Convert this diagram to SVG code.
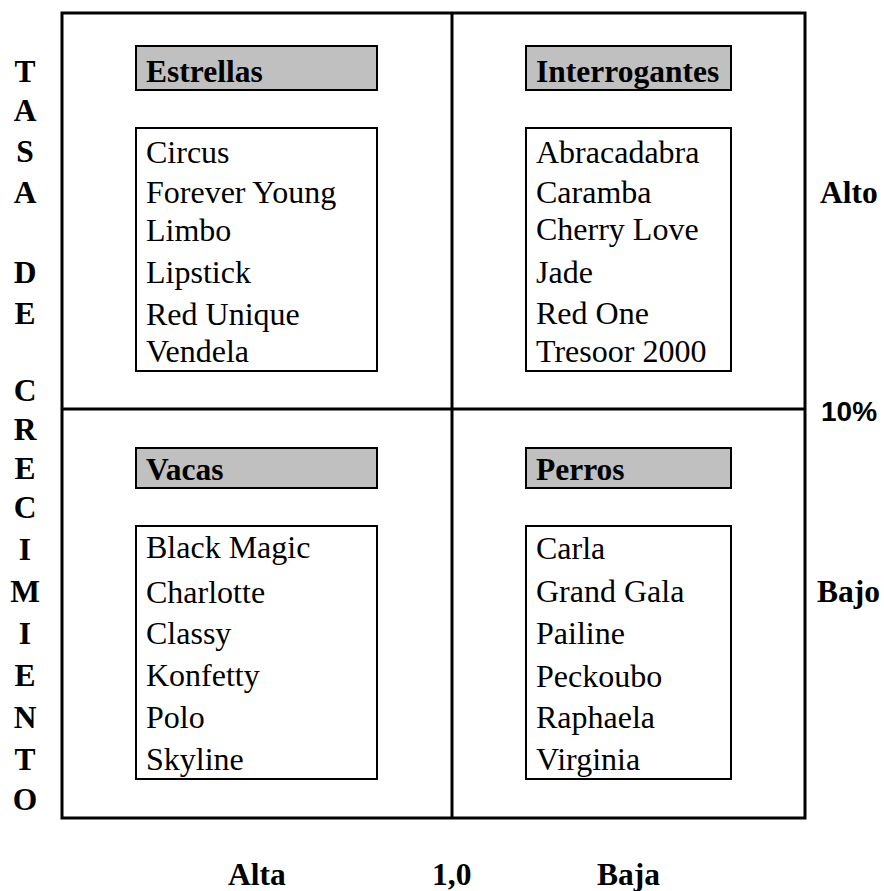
<svg xmlns="http://www.w3.org/2000/svg" width="884" height="891" viewBox="0 0 884 891">
<style>
.t{font-family:"Liberation Serif","Times New Roman",serif;font-size:32px;fill:#000}
.b{font-family:"Liberation Serif","Times New Roman",serif;font-size:31.5px;font-weight:bold;fill:#000}
.s{font-family:"Liberation Sans",Arial,sans-serif;font-size:28px;font-weight:bold;fill:#000}
.hdr{fill:#c0c0c0;stroke:#000;stroke-width:2}
.lst{fill:#fff;stroke:#000;stroke-width:2}
.ln{stroke:#000;stroke-width:3;fill:none}
</style>
<rect width="884" height="891" fill="#fff"/>
<g id="frame">
<rect class="ln" x="62" y="13" width="743" height="805"/>
<line class="ln" x1="452" y1="13" x2="452" y2="818"/>
<line class="ln" x1="62" y1="409" x2="805" y2="409"/>
</g>
<g id="axis-y" class="b" text-anchor="middle">
<text x="25" y="82">T</text>
<text x="25" y="121">A</text>
<text x="25" y="162">S</text>
<text x="25" y="203">A</text>
<text x="25" y="283">D</text>
<text x="25" y="324">E</text>
<text x="25" y="401">C</text>
<text x="25" y="440">R</text>
<text x="25" y="479">E</text>
<text x="25" y="518">C</text>
<text x="25" y="560">I</text>
<text x="25" y="602">M</text>
<text x="25" y="644">I</text>
<text x="25" y="686">E</text>
<text x="25" y="728">N</text>
<text x="25" y="770">T</text>
<text x="25" y="810">O</text>
</g>
<g id="estrellas">
<rect class="hdr" x="136" y="46" width="241" height="44"/>
<text class="b" x="146" y="82">Estrellas</text>
<rect class="lst" x="136" y="128" width="241" height="243"/>
<g class="t">
<text x="146" y="163">Circus</text>
<text x="146" y="203">Forever Young</text>
<text x="146" y="241">Limbo</text>
<text x="146" y="283">Lipstick</text>
<text x="146" y="325">Red Unique</text>
<text x="146" y="362">Vendela</text>
</g>
</g>
<g id="interrogantes">
<rect class="hdr" x="526" y="46" width="205" height="44"/>
<text class="b" x="536" y="82">Interrogantes</text>
<rect class="lst" x="526" y="128" width="205" height="243"/>
<g class="t">
<text x="536" y="163">Abracadabra</text>
<text x="536" y="203">Caramba</text>
<text x="536" y="240">Cherry Love</text>
<text x="536" y="283">Jade</text>
<text x="536" y="324">Red One</text>
<text x="536" y="362">Tresoor 2000</text>
</g>
</g>
<g id="vacas">
<rect class="hdr" x="136" y="448" width="241" height="40"/>
<text class="b" x="146" y="480">Vacas</text>
<rect class="lst" x="136" y="526" width="241" height="253"/>
<g class="t">
<text x="146" y="558">Black Magic</text>
<text x="146" y="603">Charlotte</text>
<text x="146" y="644">Classy</text>
<text x="146" y="686">Konfetty</text>
<text x="146" y="728">Polo</text>
<text x="146" y="770">Skyline</text>
</g>
</g>
<g id="perros">
<rect class="hdr" x="526" y="448" width="205" height="40"/>
<text class="b" x="536" y="480">Perros</text>
<rect class="lst" x="526" y="526" width="205" height="253"/>
<g class="t">
<text x="536" y="559">Carla</text>
<text x="536" y="602">Grand Gala</text>
<text x="536" y="644">Pailine</text>
<text x="536" y="687">Peckoubo</text>
<text x="536" y="728">Raphaela</text>
<text x="536" y="770">Virginia</text>
</g>
</g>
<g id="axis-labels">
<text class="b" x="820" y="203">Alto</text>
<text class="s" x="821" y="421">10%</text>
<text class="b" x="817" y="602">Bajo</text>
<text class="b" x="228" y="885">Alta</text>
<text class="b" x="432" y="885">1,0</text>
<text class="b" x="597" y="885">Baja</text>
</g>
</svg>
